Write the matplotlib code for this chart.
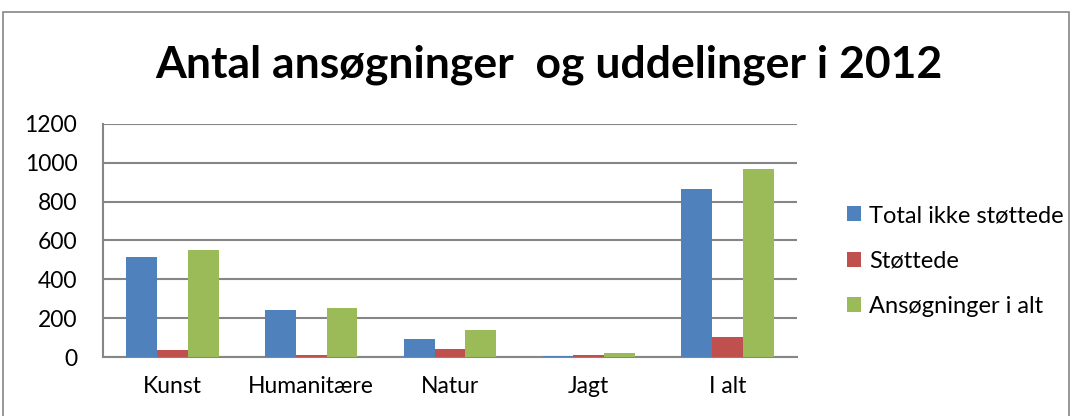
import matplotlib
matplotlib.use("Agg")
import matplotlib.pyplot as plt
import numpy as np
from matplotlib.patches import Rectangle, Patch

categories = ["Kunst", "Humanitære", "Natur", "Jagt", "I alt"]
series_names = ["Total ikke støttede", "Støttede", "Ansøgninger i alt"]
total_ikke = [516, 243, 93, 6, 864]
stottede = [36, 9, 43, 12, 103]
ansogninger = [552, 254, 141, 21, 968]
colors = ["#4F81BD", "#C0504D", "#9BBB59"]
yticks = [0, 200, 400, 600, 800, 1000, 1200]

plt.rcParams['font.family'] = ['Lato', 'DejaVu Sans']

fig = plt.figure(figsize=(10.75, 4.16), dpi=100)
ax = fig.add_axes([0.0958, 0.1418, 0.7414 - 0.0958, 0.702 - 0.1418])

x = np.arange(len(categories))
w = 0.222
data = [total_ikke, stottede, ansogninger]
for i, (vals, c) in enumerate(zip(data, colors)):
    ax.bar(x + (i - 1) * w, vals, width=w, color=c, edgecolor='none', zorder=3)

ax.set_xlim(-0.5, len(categories) - 0.5)
ax.set_ylim(0, 1200)
ax.set_yticks(yticks)
ax.set_yticklabels([str(t) for t in yticks], fontsize=16.5)
ax.set_xticks(x)
ax.set_xticklabels(categories, fontsize=16.5)
ax.tick_params(axis='y', length=0, pad=18.5)
ax.tick_params(axis='x', length=0, pad=14)
ax.grid(axis='y', color='#868686', linewidth=1.5, zorder=0)
for s in ['top', 'right']:
    ax.spines[s].set_visible(False)
ax.spines['left'].set_color('#868686')
ax.spines['left'].set_linewidth(1.5)
ax.spines['bottom'].set_color('#868686')
ax.spines['bottom'].set_linewidth(1.5)

fig.text(0.511, 0.845, "Antal ansøgninger  og uddelinger i 2012", ha='center', va='center',
         fontsize=32, fontweight='bold')

handles = [Patch(facecolor=c, edgecolor='none') for c in colors]
fig.legend(handles, series_names, loc='center left', bbox_to_anchor=(0.779, 0.373),
           frameon=False, fontsize=17, handlelength=0.6, handleheight=0.6,
           handletextpad=0.35, labelspacing=1.03, borderaxespad=0)

fig.patches.append(Rectangle((0.003, -0.1), 0.991, 1.071, transform=fig.transFigure,
                             fill=False, edgecolor='#868686', linewidth=1.2))

fig.savefig("out.png", dpi=100)
